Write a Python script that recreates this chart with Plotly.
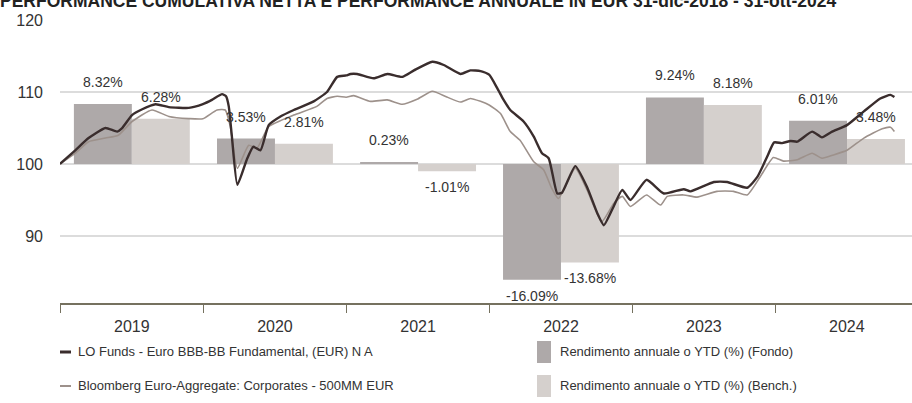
import plotly.graph_objects as go
import pandas as pd

# ---------------- data ----------------
title_text = "PERFORMANCE CUMULATIVA NETTA E PERFORMANCE ANNUALE IN EUR 31-dic-2018 - 31-ott-2024"
fund_name = "LO Funds - Euro BBB-BB Fundamental, (EUR) N A"
bench_name = "Bloomberg Euro-Aggregate: Corporates - 500MM EUR"
bar_fund_name = "Rendimento annuale o YTD (%) (Fondo)"
bar_bench_name = "Rendimento annuale o YTD (%) (Bench.)"

years = [2019, 2020, 2021, 2022, 2023, 2024]
ret_fund = [8.32, 3.53, 0.23, -16.09, 9.24, 6.01]
ret_bench = [6.28, 2.81, -1.01, -13.68, 8.18, 3.48]

fund_dates = [
    "2018-12-31", "2019-02-08", "2019-03-14", "2019-04-26", "2019-05-26", "2019-06-07",
    "2019-07-03", "2019-07-29", "2019-09-01", "2019-10-05", "2019-11-25", "2019-12-31",
    "2020-01-23", "2020-02-18", "2020-02-28", "2020-03-06", "2020-03-14", "2020-03-28",
    "2020-04-21", "2020-05-08", "2020-05-26", "2020-06-16", "2020-07-16", "2020-08-19",
    "2020-10-09", "2020-11-12", "2020-12-08", "2020-12-31", "2021-01-11", "2021-01-28",
    "2021-03-11", "2021-04-15", "2021-05-23", "2021-06-22", "2021-08-08", "2021-09-06",
    "2021-10-19", "2021-11-13", "2021-12-09", "2021-12-31", "2022-01-21", "2022-02-06",
    "2022-02-23", "2022-03-29", "2022-04-24", "2022-05-15", "2022-06-01", "2022-06-23",
    "2022-07-05", "2022-08-08", "2022-09-07", "2022-10-03", "2022-10-20", "2022-11-14",
    "2022-12-06", "2022-12-27", "2023-02-06", "2023-03-22", "2023-05-12",
    "2023-05-29", "2023-07-28", "2023-08-31", "2023-10-21", "2023-11-16", "2023-12-11",
    "2023-12-29", "2024-01-18", "2024-02-09", "2024-02-26", "2024-04-04", "2024-04-29",
    "2024-05-25", "2024-07-02", "2024-08-14", "2024-09-25", "2024-10-21", "2024-10-31",
]
fund_values = [
    100.0, 101.9, 103.6, 105.0, 104.5, 104.95,
    106.8, 107.6, 108.3, 107.9, 107.8, 108.32,
    108.9, 109.7, 109.4, 108.0, 103.8, 97.1,
    100.6, 102.4, 101.9, 105.4, 106.6, 107.5,
    108.7, 110.0, 112.1, 112.3, 112.5, 112.5,
    111.9, 112.5, 112.1, 113.0, 114.2, 113.75,
    112.5, 113.0, 112.9, 112.4, 110.5, 108.9,
    107.5, 105.9, 103.8, 101.5, 100.8, 95.9,
    96.0, 99.7, 96.8, 93.2, 91.5, 94.1,
    96.4, 95.0, 97.8, 95.9, 96.5,
    96.2, 97.5, 97.5, 96.7, 98.2, 101.0,
    103.0, 102.9, 103.2, 103.1, 104.5, 103.7,
    104.5, 105.4, 107.3, 109.1, 109.6, 109.3,
]

bench_dates = [
    "2018-12-31", "2019-02-08", "2019-03-14", "2019-04-26", "2019-05-29", "2019-07-03",
    "2019-08-23", "2019-10-05", "2019-11-25", "2019-12-31", "2020-02-05", "2020-02-26",
    "2020-03-10", "2020-03-28", "2020-04-26", "2020-05-17", "2020-06-16", "2020-08-19",
    "2020-10-17", "2020-11-12", "2020-12-08", "2020-12-31", "2021-01-19", "2021-03-03",
    "2021-04-15", "2021-05-23", "2021-06-30", "2021-08-08", "2021-09-14", "2021-10-19",
    "2021-11-13", "2021-12-09", "2021-12-31", "2022-01-29", "2022-02-23", "2022-03-20",
    "2022-04-24", "2022-05-19", "2022-06-09", "2022-06-26", "2022-08-08", "2022-09-07",
    "2022-10-15", "2022-11-14", "2022-12-06", "2022-12-27", "2023-02-06", "2023-03-14",
    "2023-03-31", "2023-05-12", "2023-06-15", "2023-08-05", "2023-09-16", "2023-10-21",
    "2023-11-23", "2023-12-27", "2024-01-22", "2024-02-26", "2024-04-04", "2024-04-29",
    "2024-05-28", "2024-07-02", "2024-08-14", "2024-09-30", "2024-10-21", "2024-10-31",
]
bench_values = [
    100.0, 101.5, 103.1, 103.6, 104.0, 105.9,
    107.5, 106.6, 106.3, 106.28, 107.5, 107.5,
    105.2, 99.4, 102.6, 102.2, 105.2, 106.8,
    108.0, 109.1, 109.4, 109.27, 109.5, 108.7,
    108.9, 108.3, 109.0, 110.1, 109.3, 108.6,
    109.1, 108.7, 108.2, 107.0, 104.5, 103.3,
    100.3, 99.2, 96.6, 95.2, 99.4, 96.4,
    92.0, 94.5, 95.5, 94.1, 95.7, 94.3,
    95.5, 95.7, 95.4, 96.2, 96.2, 95.7,
    98.2, 100.9, 100.4, 100.6, 101.5, 100.8,
    101.25, 101.9, 103.6, 104.9, 105.1, 104.5,
]

# ---------------- style ----------------
FONT = "Liberation Sans, Arial, sans-serif"
TXT = "#333333"
C_FUND_LINE = "#3a2d2d"
C_BENCH_LINE = "#9d918b"
C_FUND_BAR = "#aea9a9"
C_BENCH_BAR = "#d5d0cd"
AXIS_C = "#75715f"

W, H = 912, 403
ML, MR, MT, MB = 60, 0, 20, 100
PW, PH = W - ML - MR, H - MT - MB
BASE = 100

def px(x):
    return (x - ML) / PW

def py(y):
    return (H - MB - y) / PH

DAY = 86400000
bar_w = 148 * DAY
mids = [pd.Timestamp(f"{y}-01-01") + (pd.Timestamp(f"{y+1}-01-01") - pd.Timestamp(f"{y}-01-01")) / 2 for y in years]

fig = go.Figure()
fig.add_trace(go.Bar(x=mids, y=ret_fund, base=BASE, width=bar_w, offset=-bar_w,
                     marker=dict(color=C_FUND_BAR, line=dict(width=0)),
                     name=bar_fund_name, showlegend=False, hoverinfo="skip"))
fig.add_trace(go.Bar(x=mids, y=ret_bench, base=BASE, width=bar_w, offset=0,
                     marker=dict(color=C_BENCH_BAR, line=dict(width=0)),
                     name=bar_bench_name, showlegend=False, hoverinfo="skip"))
fig.add_trace(go.Scatter(x=bench_dates, y=bench_values, mode="lines",
                         line=dict(color=C_BENCH_LINE, width=1.6, shape="spline", smoothing=0.5),
                         name=bench_name, showlegend=False))
fig.add_trace(go.Scatter(x=fund_dates, y=fund_values, mode="lines",
                         line=dict(color=C_FUND_LINE, width=2.4, shape="spline", smoothing=0.5),
                         name=fund_name, showlegend=False))

annotations = []
half = pd.Timedelta(days=74)
for m, rf, rb in zip(mids, ret_fund, ret_bench):
    for xv, r in ((m - half, rf), (m + half, rb)):
        annotations.append(dict(
            x=xv, y=BASE + r, xref="x", yref="y", text=f"{r:.2f}%", showarrow=False,
            yshift=22 if r >= 0 else -16, font=dict(family=FONT, size=14, color=TXT)))

# title (cropped at top in the reference)
annotations.append(dict(x=px(-2), y=py(13), xref="paper", yref="paper", xanchor="left",
                        yanchor="bottom", text=f"<b>{title_text}</b>", showarrow=False,
                        font=dict(family=FONT, size=17.5, color="#222222")))

# legend (manual)
shapes = [dict(type="line", xref="paper", yref="y", x0=0, x1=1, y0=BASE, y1=BASE,
               line=dict(color="#bdbdbd", width=2), layer="below")]
leg = [
    ("line", C_FUND_LINE, 3, fund_name, 60, 352),
    ("line", C_BENCH_LINE, 2, bench_name, 60, 386),
    ("rect", C_FUND_BAR, 0, bar_fund_name, 537, 352),
    ("rect", C_BENCH_BAR, 0, bar_bench_name, 537, 386),
]
for kind, col, lw, label, lx, ly in leg:
    if kind == "line":
        shapes.append(dict(type="line", xref="paper", yref="paper", x0=px(lx), x1=px(lx + 11),
                           y0=py(ly), y1=py(ly), line=dict(color=col, width=lw)))
        tx = lx + 16
    else:
        shapes.append(dict(type="rect", xref="paper", yref="paper", x0=px(lx), x1=px(lx + 14),
                           y0=py(ly - 11), y1=py(ly + 11), fillcolor=col, line=dict(width=0)))
        tx = lx + 21
    annotations.append(dict(x=px(tx), y=py(ly), xref="paper", yref="paper", xanchor="left",
                            yanchor="middle", text=label, showarrow=False,
                            font=dict(family=FONT, size=13, color=TXT)))

fig.update_layout(
    width=W, height=H,
    margin=dict(l=ML, r=MR, t=MT, b=MB, pad=0),
    paper_bgcolor="white", plot_bgcolor="white",
    barmode="overlay", showlegend=False,
    font=dict(family=FONT, color=TXT),
    annotations=annotations, shapes=shapes,
    xaxis=dict(type="date", range=["2018-12-31", "2024-12-15"],
               tick0="2019-01-01", dtick="M12", tickformat="%Y", ticklabelmode="period",
               ticks="outside", ticklen=8, tickwidth=1.2, tickcolor=AXIS_C,
               showline=True, linecolor=AXIS_C, linewidth=1.5,
               showgrid=False, zeroline=False,
               tickfont=dict(family=FONT, size=16, color=TXT)),
    yaxis=dict(range=[80.69, 120], tickvals=[90, 100, 110, 120],
               showgrid=True, gridcolor="#dcdcdc", gridwidth=1.5,
               zeroline=False, showline=False, ticks="", ticklabelstandoff=16,
               tickfont=dict(family=FONT, size=16, color=TXT)),
)

fig.write_html("out.html", config={"displayModeBar": False},
               post_script="document.body.style.margin='0';document.body.style.overflow='hidden';")
